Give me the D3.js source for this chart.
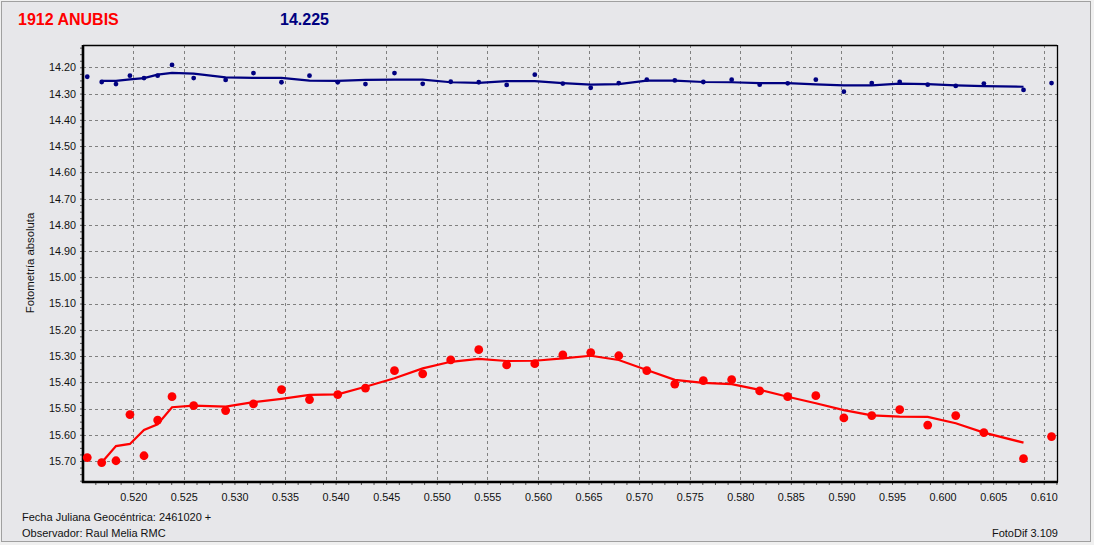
<!DOCTYPE html>
<html><head><meta charset="utf-8">
<script src="https://cdn.jsdelivr.net/npm/d3@7"></script>
<style>
html,body{margin:0;padding:0;background:#f0f0f0;}
svg{display:block;}
text{font-family:"Liberation Sans",Arial,sans-serif;}
</style></head>
<body>
<svg id="c" width="1094" height="545"></svg>
<script>
// ---- data ----
const times = [0.51545,0.51688,0.51829,0.51967,0.52106,0.52241,0.52383,0.52597,0.52913,0.53188,
0.53465,0.53742,0.54021,0.54295,0.54582,0.54861,0.55138,0.55415,0.55691,0.55969,
0.56246,0.56522,0.56799,0.57076,0.57353,0.57635,0.57915,0.58192,0.58469,0.58747,
0.59024,0.59300,0.59576,0.59853,0.60130,0.60408,0.60800,0.61077];
const targetMag = [15.687,15.706,15.699,15.523,15.680,15.544,15.455,15.489,15.508,15.482,
15.428,15.466,15.447,15.422,15.356,15.368,15.315,15.276,15.334,15.329,
15.296,15.287,15.299,15.356,15.407,15.394,15.390,15.433,15.455,15.451,
15.536,15.527,15.504,15.563,15.527,15.592,15.691,15.607];
const targetTrend = [null,15.706,15.643,15.635,15.582,15.560,15.495,15.489,15.493,15.476,
15.463,15.448,15.446,15.417,15.385,15.347,15.322,15.311,15.319,15.318,
15.309,15.299,15.315,15.353,15.391,15.402,15.407,15.429,15.455,15.480,
15.506,15.526,15.531,15.532,15.556,15.592,15.630,null];
const compMag = [14.236,14.256,14.264,14.232,14.241,14.232,14.191,14.241,14.248,14.222,
14.257,14.232,14.257,14.264,14.222,14.263,14.255,14.257,14.267,14.228,
14.262,14.278,14.260,14.247,14.250,14.256,14.247,14.266,14.261,14.247,
14.293,14.260,14.256,14.266,14.271,14.262,14.286,14.260];
const compTrend = [null,14.252,14.252,14.246,14.241,14.228,14.221,14.224,14.238,14.240,
14.240,14.251,14.252,14.248,14.247,14.247,14.257,14.259,14.253,14.253,
14.260,14.266,14.264,14.251,14.251,14.256,14.257,14.260,14.260,14.265,
14.269,14.269,14.262,14.264,14.269,14.272,14.274,null];
const xTicks = [0.520,0.525,0.530,0.535,0.540,0.545,0.550,0.555,0.560,0.565,0.570,0.575,0.580,0.585,0.590,0.595,0.600,0.605,0.610];
const yTicks = [14.20,14.30,14.40,14.50,14.60,14.70,14.80,14.90,15.00,15.10,15.20,15.30,15.40,15.50,15.60,15.70];
const titleText = "1912 ANUBIS";
const refMagText = "14.225";
const yLabel = "Fotometría absoluta";
const footLeft1 = "Fecha Juliana Geocéntrica: 2461020 +";
const footLeft2 = "Observador: Raul Melia RMC";
const footRight = "FotoDif 3.109";

// ---- layout ----
const svg = d3.select("#c");
const L = 83, T = 45, R = 1057, B = 482;
const bg = "#e7e7ea";

svg.append("rect").attr("x",1.5).attr("y",1.5).attr("width",1089).attr("height",540)
  .attr("fill",bg).attr("stroke","#a0a0a0").attr("stroke-width",1);

const x = d3.scaleLinear().domain([0.51503,0.61131]).range([L,R]);
const y = d3.scaleLinear().domain([14.115,15.780]).range([T,B]);

// grid
const g = svg.append("g");
g.selectAll("line.vg").data(xTicks).join("line").attr("class","vg")
  .attr("x1",d=>Math.round(x(d))+0.5).attr("x2",d=>Math.round(x(d))+0.5)
  .attr("y1",T).attr("y2",B).attr("stroke","#808080").attr("stroke-dasharray","3,3");
g.selectAll("line.hg").data(yTicks).join("line").attr("class","hg")
  .attr("y1",d=>Math.round(y(d))+0.5).attr("y2",d=>Math.round(y(d))+0.5)
  .attr("x1",L).attr("x2",R).attr("stroke","#808080").attr("stroke-dasharray","3,3");

// axes
const minorX = d3.range(0.51625,0.6113,0.00125);
const minorY = d3.range(14.125,15.78,0.025);
const xAxis = d3.axisBottom(x).tickValues(minorX).tickSize(3).tickFormat("");
const yAxis = d3.axisLeft(y).tickValues(minorY).tickSize(3).tickFormat("");
const xa = svg.append("g").attr("transform",`translate(0,${B})`).call(xAxis);
const ya = svg.append("g").attr("transform",`translate(${L},0)`).call(yAxis);
[xa,ya].forEach(a=>{a.select(".domain").remove(); a.selectAll("line").attr("stroke","#555");});

const xl = svg.append("g").attr("transform",`translate(0,${B})`)
  .call(d3.axisBottom(x).tickValues(xTicks).tickSize(0).tickPadding(11).tickFormat(d3.format(".3f")));
const yl = svg.append("g").attr("transform",`translate(${L},0)`)
  .call(d3.axisLeft(y).tickValues(yTicks).tickSize(0).tickPadding(7).tickFormat(d3.format(".2f")));
[xl,yl].forEach(a=>{a.select(".domain").remove();
  a.selectAll("text").attr("font-family","'Liberation Sans',Arial,sans-serif").attr("font-size","10.8px").attr("fill","#111");});

// frame
svg.append("line").attr("x1",L).attr("x2",R).attr("y1",T+0.5).attr("y2",T+0.5).attr("stroke","#000").attr("stroke-width",1.3);
svg.append("line").attr("x1",R+0.5).attr("x2",R+0.5).attr("y1",T).attr("y2",B).attr("stroke","#000").attr("stroke-width",1.3);
svg.append("line").attr("x1",L).attr("x2",L).attr("y1",T).attr("y2",B+1).attr("stroke","#000").attr("stroke-width",2.6);
svg.append("line").attr("x1",L-1).attr("x2",R+1).attr("y1",B).attr("y2",B).attr("stroke","#000").attr("stroke-width",2.6);

// series
const rows = times.map((t,i)=>({t, tm:targetMag[i], tt:targetTrend[i], cm:compMag[i], ct:compTrend[i]}));
const lineT = d3.line().defined(d=>d.tt!=null).x(d=>x(d.t)).y(d=>y(d.tt));
const lineC = d3.line().defined(d=>d.ct!=null).x(d=>x(d.t)).y(d=>y(d.ct));
svg.append("path").datum(rows).attr("d",lineC).attr("fill","none").attr("stroke","#000080").attr("stroke-width",2.2);
svg.append("path").datum(rows).attr("d",lineT).attr("fill","none").attr("stroke","#ff0000").attr("stroke-width",2.2);
svg.selectAll("circle.c").data(rows).join("circle").attr("class","c")
  .attr("cx",d=>x(d.t)).attr("cy",d=>y(d.cm)).attr("r",2.4).attr("fill","#000080");
svg.selectAll("circle.t").data(rows).join("circle").attr("class","t")
  .attr("cx",d=>x(d.t)).attr("cy",d=>y(d.tm)).attr("r",4.4).attr("fill","#ff0000");

// texts
svg.append("text").attr("x",18).attr("y",25).attr("font-size","16px").attr("font-weight","bold")
  .attr("fill","#ff0000").attr("font-family","'Liberation Sans',Arial,sans-serif").text(titleText);
svg.append("text").attr("x",280).attr("y",25).attr("font-size","16px").attr("font-weight","bold")
  .attr("fill","#000080").attr("font-family","'Liberation Sans',Arial,sans-serif").text(refMagText);
svg.append("text").attr("transform","translate(34,263) rotate(-90)").attr("text-anchor","middle")
  .attr("font-size","11.3px").attr("fill","#111").text(yLabel);
svg.append("text").attr("x",22).attr("y",521).attr("font-size","11px").attr("fill","#111").text(footLeft1);
svg.append("text").attr("x",22).attr("y",537).attr("font-size","11px").attr("fill","#111").text(footLeft2);
svg.append("text").attr("x",1058).attr("y",537).attr("text-anchor","end").attr("font-size","11px").attr("fill","#111").text(footRight);
</script>
</body></html>
